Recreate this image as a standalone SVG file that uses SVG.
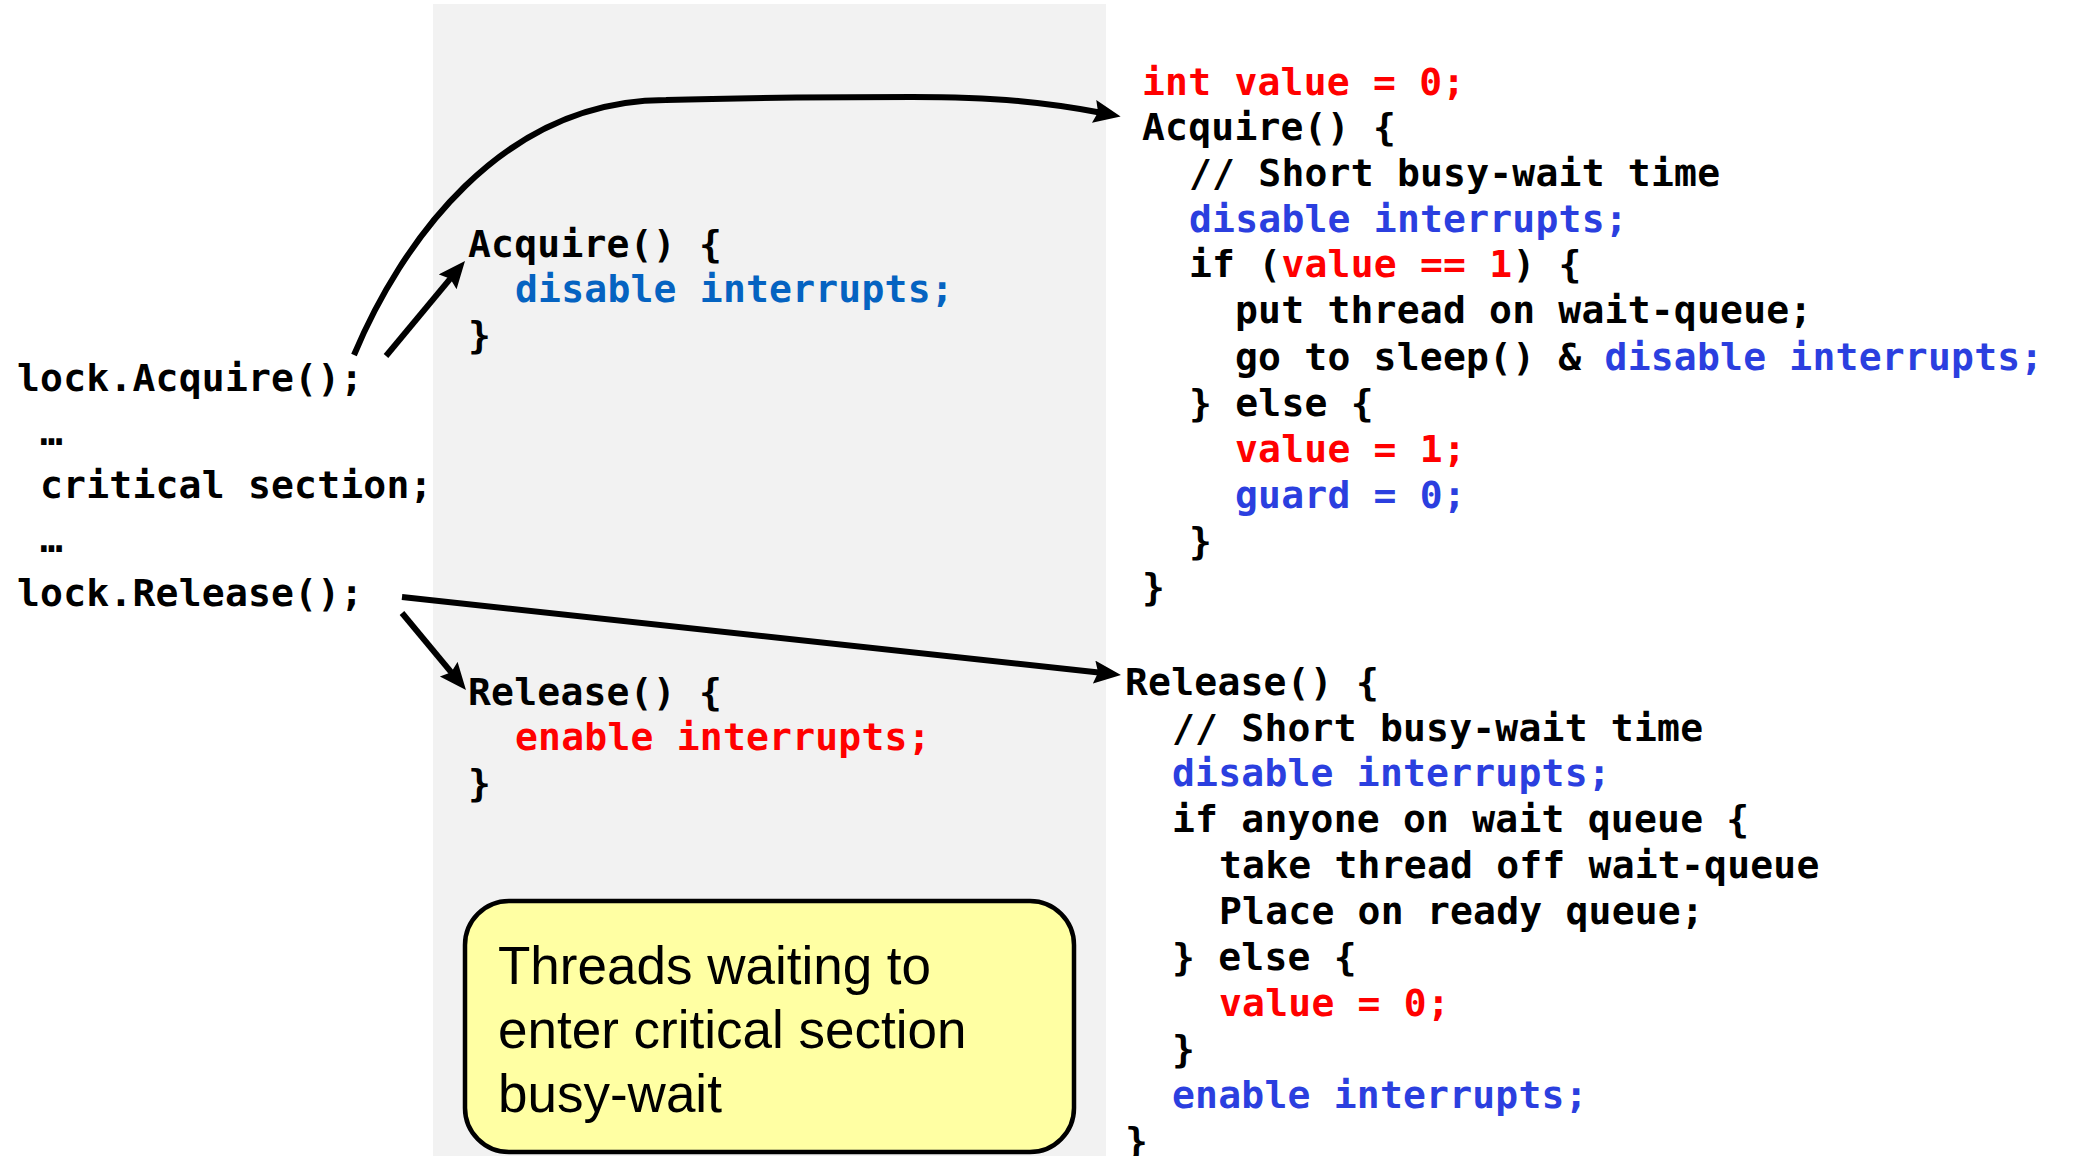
<svg xmlns="http://www.w3.org/2000/svg" width="2075" height="1156" viewBox="0 0 2075 1156">
<style>
.code{font-family:"DejaVu Sans Mono","Liberation Mono",monospace;font-weight:bold;font-size:38px;letter-spacing:0.22px;fill:#000}
.red{fill:#ff0000}
.blue{fill:#2b3fdf}
.mblue{fill:#0563c1}
.note{font-family:"Liberation Sans",Arial,sans-serif;font-size:53px;fill:#000}
.conn{fill:none;stroke:#000;stroke-width:6}
</style>
<defs>
<marker id="ah" markerUnits="userSpaceOnUse" markerWidth="28" markerHeight="24" refX="7" refY="11.5" orient="auto" viewBox="0 0 28 24">
<path d="M0,0 L27,11.5 L0,23 L4,11.5 z" fill="#000"/>
</marker>
</defs>
<rect width="2075" height="1156" fill="#ffffff"/>
<rect id="panel" x="433" y="4" width="673" height="1152" fill="#f2f2f2"/>

<g id="caller">
<text class="code" x="17" y="391">lock.Acquire();</text>
<text class="code" x="40" y="445">…</text>
<text class="code" x="40" y="498">critical section;</text>
<text class="code" x="40" y="552">…</text>
<text class="code" x="17" y="606">lock.Release();</text>
</g>

<g id="simple-acquire">
<text class="code" x="468" y="257">Acquire() {</text>
<text class="code mblue" x="515" y="302">disable interrupts;</text>
<text class="code" x="468" y="348">}</text>
</g>

<g id="simple-release">
<text class="code" x="468" y="705">Release() {</text>
<text class="code red" x="515" y="750">enable interrupts;</text>
<text class="code" x="468" y="796">}</text>
</g>

<g id="note">
<rect x="465" y="901" width="609" height="251" rx="44" ry="44" fill="#ffffa3" stroke="#000" stroke-width="4.5"/>
<text class="note" x="498" y="984">Threads waiting to</text>
<text class="note" x="498" y="1048">enter critical section</text>
<text class="note" x="498" y="1112">busy-wait</text>
</g>

<g id="acquire">
<text class="code red" x="1142" y="95">int value = 0;</text>
<text class="code" x="1142" y="140">Acquire() {</text>
<text class="code" x="1189" y="186">// Short busy-wait time</text>
<text class="code blue" x="1189" y="232">disable interrupts;</text>
<text class="code" x="1189" y="277">if (<tspan class="red">value == 1</tspan>) {</text>
<text class="code" x="1235" y="323">put thread on wait-queue;</text>
<text class="code" x="1235" y="370">go to sleep() &amp; <tspan class="blue">disable interrupts;</tspan></text>
<text class="code" x="1189" y="416">} else {</text>
<text class="code red" x="1235" y="462">value = 1;</text>
<text class="code blue" x="1235" y="508">guard = 0;</text>
<text class="code" x="1189" y="554">}</text>
<text class="code" x="1142" y="600">}</text>
</g>

<g id="release">
<text class="code" x="1125" y="695">Release() {</text>
<text class="code" x="1172" y="741">// Short busy-wait time</text>
<text class="code blue" x="1172" y="786">disable interrupts;</text>
<text class="code" x="1172" y="832">if anyone on wait queue {</text>
<text class="code" x="1219" y="878">take thread off wait-queue</text>
<text class="code" x="1219" y="924">Place on ready queue;</text>
<text class="code" x="1172" y="970">} else {</text>
<text class="code red" x="1219" y="1016">value = 0;</text>
<text class="code" x="1172" y="1062">}</text>
<text class="code blue" x="1172" y="1108">enable interrupts;</text>
<text class="code" x="1125" y="1154">}</text>
</g>

<g id="connectors">
<path class="conn" d="M354,355 C400,245 500,100 666,100 C730,98 850,97 912,97 C1000,97 1050,103 1101,112.7" marker-end="url(#ah)"/>
<path class="conn" d="M386,356 L452.2,276.4" marker-end="url(#ah)"/>
<path class="conn" d="M402,597 L1101.1,672.8" marker-end="url(#ah)"/>
<path class="conn" d="M402,613 L453.2,674.6" marker-end="url(#ah)"/>
</g>
</svg>
